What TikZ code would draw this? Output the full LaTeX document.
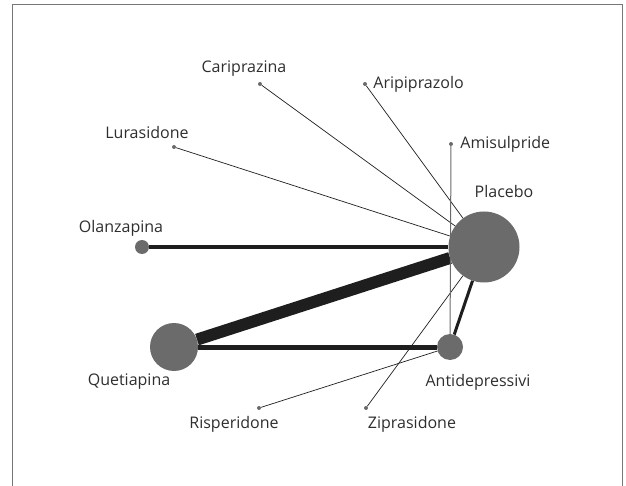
\documentclass[tikz,border=0pt]{standalone}
\usepackage{fontspec}
\setmainfont{Open Sans}
\usetikzlibrary{positioning}
\definecolor{nwDisc}{HTML}{6B6B6B}
\definecolor{nwLine}{HTML}{1E1E1E}
\definecolor{nwText}{HTML}{2E2E2E}
\definecolor{nwFrame}{HTML}{777777}

\begin{document}
\begin{tikzpicture}[x=1pt, y=-1pt,
      trial/.style={circle, fill=nwDisc, inner sep=0pt, minimum size=#1},
      stud/.style={circle, fill=nwDisc, inner sep=0pt, minimum size=4pt},
      tag/.style={font=\fontsize{16}{19}\selectfont, text=nwText, inner sep=0pt},
      arm/.style={nwLine, line width=0.7pt},
      link/.style={nwLine, line width=#1}]
    \useasboundingbox (0,0) rectangle (626,486);
    \draw[nwFrame, line width=1.2pt] (12.5,486) -- (12.5,4.5) -- (622.5,4.5) -- (622.5,486);
    \node[trial=71pt] (pla) at (484,247) {};
    \node[trial=48pt] (que) at (174,347) {};
    \node[trial=26pt] (ant) at (450,347) {};
    \node[trial=14pt] (ola) at (142,247) {};
    \node[stud] (car) at (260,84) {};
    \node[stud] (ari) at (365,84) {};
    \node[stud] (lur) at (174,147) {};
    \node[stud] (ami) at (451,144) {};
    \node[stud] (ris) at (259,408) {};
    \node[stud] (zip) at (366,408) {};
    \node[tag] (tPla) at (504,192) {Placebo};
    \node[tag] (tQue) at (129,382) {Quetiapina};
    \node[tag] (tAnt) at (478,382) {Antidepressivi};
    \node[tag] (tOla) at (121,228) {Olanzapina};
    \node[tag] (tCar) at (244,69) {Cariprazina};
    \node[tag, right=6pt of ari] (tAri) {Aripiprazolo};
    \node[tag] (tLur) at (147,133) {Lurasidone};
    \node[tag, right=7pt of ami] (tAmi) {Amisulpride};
    \node[tag] (tRis) at (234,424) {Risperidone};
    \node[tag] (tZip) at (412,424) {Ziprasidone};
    \draw[link=12pt] (que) -- (pla);
    \draw[link=3.5pt] (ola) -- (pla);
    \draw[link=5pt] (que) -- (ant);
    \draw[link=3pt] (ant) -- (pla);
    \draw[arm] (car) -- (pla);
    \draw[arm] (ari) -- (pla);
    \draw[arm] (lur) -- (pla);
    \draw[arm] (zip) -- (pla);
    \draw[arm] (ris) -- (ant);
    \draw[nwDisc, line width=1pt] (ami) -- (ant);
  \end{tikzpicture}
\end{document}
